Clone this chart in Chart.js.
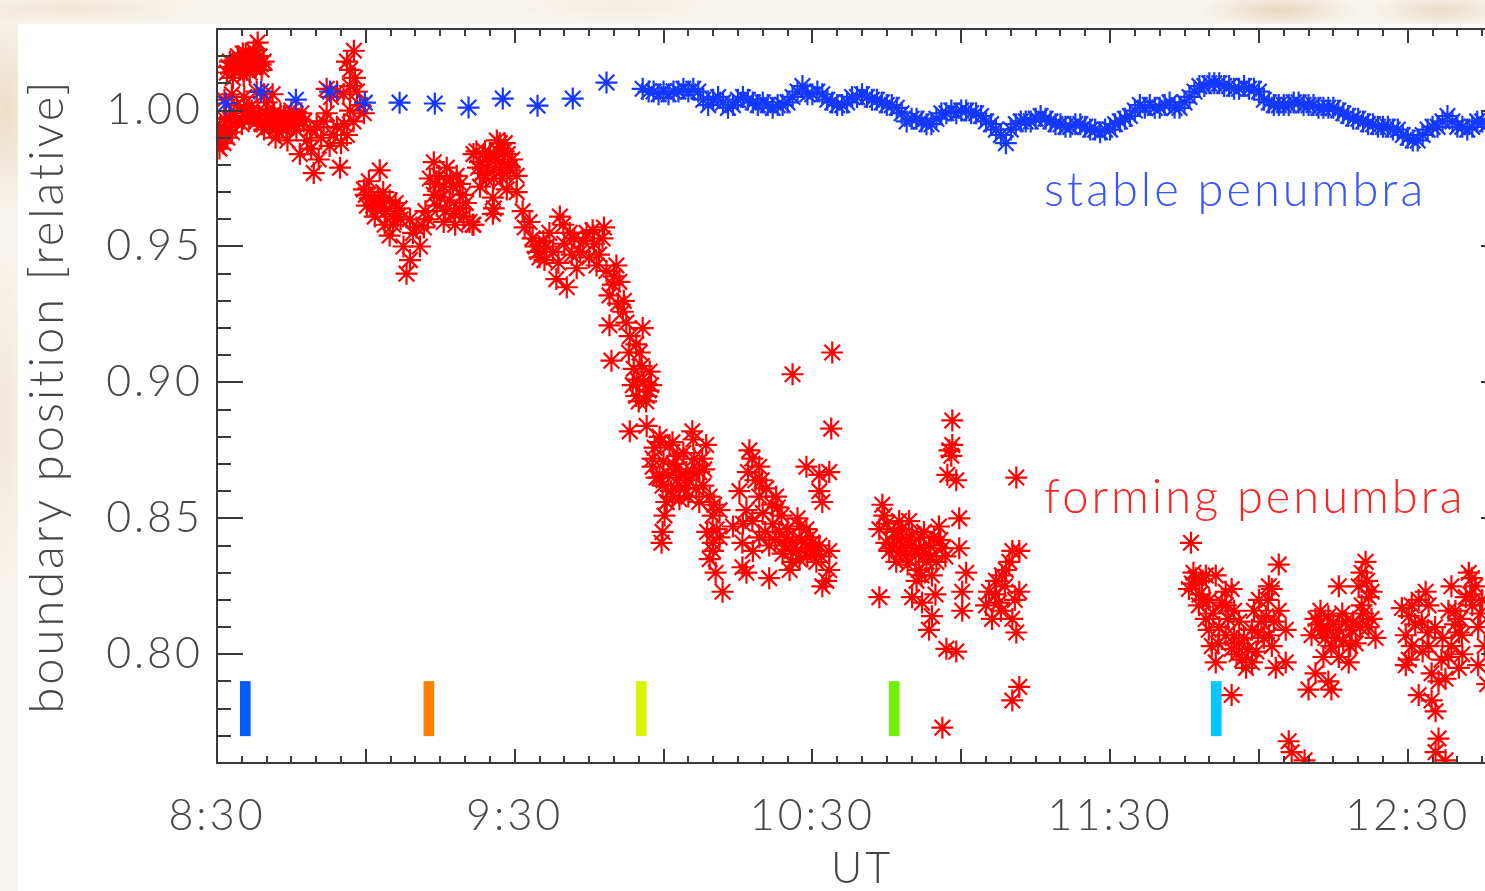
<!DOCTYPE html>
<html>
<head>
<meta charset="utf-8">
<script src="https://cdn.jsdelivr.net/npm/chart.js@4.4.1/dist/chart.umd.min.js"></script>
<style>
  body {
    margin: 0;
    width: 1485px;
    height: 891px;
    overflow: hidden;
    position: relative;
    background:
      radial-gradient(ellipse 40px 110px at 6px 110px, rgba(226, 204, 168, .55), transparent),
      radial-gradient(ellipse 30px 200px at 4px 420px, rgba(232, 216, 190, .45), transparent),
      radial-gradient(ellipse 140px 18px at 70px 8px, rgba(236, 222, 196, .6), transparent),
      radial-gradient(ellipse 120px 16px at 620px 6px, rgba(238, 228, 212, .5), transparent),
      radial-gradient(ellipse 80px 18px at 1280px 10px, rgba(224, 204, 172, .7), transparent),
      radial-gradient(ellipse 70px 18px at 1440px 10px, rgba(226, 208, 178, .65), transparent),
      #f8f5ef;
  }
  #panel {
    position: absolute;
    left: 18px;
    top: 24px;
    width: 1512px;
    height: 867px;
    background: #fff;
  }
</style>
</head>
<body>
<div id="panel"><canvas id="boundaryChart"></canvas></div>
<script>
document.addEventListener('DOMContentLoaded', function() {

    // time axis: minutes after 8:30 UT
    const START_MIN = 8 * 60 + 30;
    const X_MAX = 260;
    const Y_MIN = 0.76;
    const Y_MAX = 1.03;
    const xTickMinutes = [0, 60, 120, 180, 240];
    const yTickValues = [0.80, 0.85, 0.90, 0.95, 1.00];

    // frame markers along the bottom
    const frameTimes = [5.7, 42.7, 85.5, 136.5, 201.4];
    const frameColors = ['#005eff', '#ff8000', '#d8f500', '#70f000', '#00c8ff'];
    const frameSpan = [0.770, 0.790];

    // stable penumbra boundary [minutes, relative position]
    const stablePts = [
        [1.8, 1.0026], [8.9, 1.0070], [15.9, 1.0040], [22.8, 1.0070], [29.8, 1.0029], [36.8, 1.0029],
        [43.9, 1.0026], [50.7, 1.0011], [57.6, 1.0044], [64.6, 1.0018], [71.7, 1.0044], [78.5, 1.0103],
        [85.8, 1.008], [87, 1.007], [88, 1.007], [89, 1.006], [90, 1.007], [91, 1.006], [92, 1.007],
        [93, 1.007], [94, 1.008], [95, 1.007], [96, 1.008], [97, 1.007], [98, 1.004], [99, 1.002],
        [100, 1.004], [101, 1.005], [102, 1.003], [103, 1.001], [104, 1.002], [105, 1.004], [106, 1.005],
        [107, 1.004], [108, 1.003], [109, 1.002], [110, 1.003], [111, 1.002], [112, 1.001], [113, 1.002],
        [114, 1.002], [115, 1.003], [116, 1.005], [117, 1.007], [118, 1.009], [119, 1.006], [120, 1.006],
        [121, 1.007], [122, 1.006], [123, 1.004], [124, 1.003], [125, 1.002], [126, 1.002], [127, 1.003],
        [128, 1.005], [129, 1.005], [130, 1.006], [131, 1.005], [132, 1.004], [133, 1.004], [134, 1.003],
        [135, 1.002], [136, 1.002], [137, 1.001], [138, 0.999], [139, 0.996], [140, 0.997], [141, 0.997],
        [142, 0.996], [143, 0.995], [144, 0.995], [145, 0.997], [146, 0.999], [147, 0.999], [148, 1.000],
        [149, 0.999], [150, 1.000], [151, 1.000], [152, 0.999], [153, 0.999], [154, 0.998], [155, 0.996],
        [156, 0.995], [157, 0.993], [158, 0.991], [159, 0.988], [160, 0.993], [161, 0.995], [162, 0.996],
        [163, 0.996], [164, 0.996], [165, 0.997], [166, 0.998], [167, 0.997], [168, 0.996], [169, 0.995],
        [170, 0.995], [171, 0.994], [172, 0.994], [173, 0.995], [174, 0.995], [175, 0.994], [176, 0.993],
        [177, 0.993], [178, 0.992], [179, 0.993], [180, 0.993], [181, 0.995], [182, 0.996], [183, 0.997],
        [184, 0.998], [185, 1.000], [186, 1.002], [187, 1.001], [188, 1.002], [189, 1.001], [190, 1.001],
        [191, 1.002], [192, 1.003], [193, 1.001], [194, 1.001], [195, 1.003], [196, 1.005], [197, 1.007],
        [198, 1.009], [199, 1.009], [200, 1.010], [201, 1.010], [202, 1.010], [203, 1.009], [204, 1.009],
        [205, 1.008], [206, 1.008], [207, 1.009], [208, 1.008], [209, 1.008], [210, 1.007], [211, 1.004],
        [212, 1.003], [213, 1.002], [214, 1.002], [215, 1.002], [216, 1.002], [217, 1.003], [218, 1.003],
        [219, 1.002], [220, 1.002], [221, 1.002], [222, 1.001], [223, 1.001], [224, 1.001], [225, 1.001],
        [226, 1.000], [227, 0.999], [228, 0.998], [229, 0.997], [230, 0.997], [231, 0.996], [232, 0.995],
        [233, 0.995], [234, 0.994], [235, 0.994], [236, 0.994], [237, 0.993], [238, 0.993], [239, 0.991],
        [240, 0.990], [241, 0.989], [242, 0.989], [243, 0.991], [244, 0.993], [245, 0.994], [246, 0.994],
        [247, 0.996], [248, 0.998], [249, 0.996], [250, 0.994], [251, 0.994], [252, 0.993], [253, 0.994],
        [254, 0.996], [255, 0.996], [256, 0.995]
    ];

    // forming penumbra boundary [minutes, relative position]
    const formingPts = [
        // 8:30 - 9:00
        [0.2, 0.989], [0.5, 0.986], [0.9, 0.991], [1.3, 0.988], [1.7, 0.993], [2.1, 0.990], [2.5, 0.994],
        [3.0, 0.992], [0.6, 0.994], [1.5, 0.997],
        [2.0, 1.014], [2.6, 1.018], [3.2, 1.012], [3.6, 1.016], [4.2, 1.020], [4.6, 1.015], [5.0, 1.018],
        [5.4, 1.013], [5.8, 1.021], [6.2, 1.017], [6.6, 1.014], [7.0, 1.019], [7.4, 1.022], [7.8, 1.016],
        [8.2, 1.025], [8.6, 1.020], [9.0, 1.015], [9.4, 1.018], [4.0, 1.017], [6.0, 1.015], [7.2, 1.016],
        [3.0, 1.016], [8.0, 1.019], [2.3, 1.016], [4.4, 1.018], [5.2, 1.021], [6.8, 1.018], [7.6, 1.020],
        [8.8, 1.017],
        [1.5, 1.004], [3.0, 1.006], [4.0, 1.002], [5.5, 1.005], [6.5, 1.001], [8.0, 1.007], [9.5, 1.006],
        [10.0, 1.003], [11.2, 1.006],
        [2.5, 0.997], [4.0, 0.996], [5.5, 0.998], [7.0, 1.000], [8.5, 0.998], [9.0, 0.995], [9.5, 0.993],
        [10.0, 0.997], [10.5, 0.994], [11.0, 0.996], [11.5, 0.999], [12.0, 0.995], [12.5, 0.992], [13.0, 0.996],
        [13.5, 0.998], [14.0, 0.994], [14.5, 0.997], [15.0, 1.000], [15.5, 0.995], [16.0, 0.993], [16.5, 0.997],
        [17.0, 0.999], [11.8, 0.990], [14.2, 0.989], [10.8, 0.998], [12.8, 0.999], [13.8, 0.996], [15.8, 0.998],
        [6.5, 0.997], [8.0, 0.996], [3.5, 0.999], [5.0, 0.995], [6.0, 1.000], [7.5, 0.998], [9.8, 0.999],
        [12.2, 0.997], [13.2, 0.994], [16.2, 0.996],
        [16.7, 0.984], [19.5, 0.977], [18.1, 0.989], [20.1, 0.994], [22.1, 0.999], [24.2, 0.994], [22.7, 0.987],
        [24.8, 0.979], [25.6, 0.995], [26.8, 1.000], [26.2, 0.991], [18.8, 0.993], [21.0, 0.990], [23.5, 0.991],
        [19.0, 0.986], [21.5, 0.996], [25.0, 0.988], [27.5, 0.996], [20.5, 0.982], [17.5, 0.996],
        [22.1, 1.008], [24.2, 1.007], [26.8, 1.009], [28.2, 1.007], [28.8, 1.002], [29.6, 0.999], [26.2, 1.018],
        [27.6, 1.022], [26.8, 1.015], [23.0, 1.005], [25.5, 1.006], [27.8, 1.012],
        // 9:00 - 9:30
        [29.6, 0.971], [32.8, 0.978], [30.2, 0.965], [32.2, 0.964], [34.8, 0.967], [36.8, 0.964], [38.9, 0.960],
        [40.2, 0.957], [41.7, 0.957], [40.9, 0.950], [38.9, 0.945], [38.2, 0.940], [34.8, 0.954], [37.6, 0.950],
        [31.0, 0.968], [33.5, 0.970], [35.8, 0.962], [30.6, 0.974], [33.0, 0.966], [36.0, 0.966], [37.0, 0.960],
        [39.5, 0.955], [42.5, 0.960], [31.8, 0.961], [35.5, 0.958], [30.0, 0.969], [31.5, 0.965], [32.5, 0.968],
        [34.0, 0.963], [36.4, 0.961], [33.8, 0.958],
        [43.7, 0.981], [42.9, 0.975], [45.7, 0.972], [46.9, 0.967], [48.9, 0.964], [45.7, 0.959], [50.9, 0.959],
        [48.3, 0.976], [46.3, 0.979], [43.7, 0.969], [44.3, 0.965], [49.7, 0.961], [51.7, 0.958], [44.8, 0.976],
        [47.5, 0.972], [49.5, 0.969], [46.0, 0.963], [48.0, 0.958], [42.0, 0.963], [51.5, 0.958],
        [44.0, 0.973], [45.0, 0.968], [47.0, 0.975], [49.0, 0.973], [50.2, 0.966], [47.8, 0.962],
        [53.0, 0.981], [54.4, 0.979], [56.4, 0.989], [57.8, 0.985], [55.8, 0.975], [51.7, 0.984], [55.0, 0.984],
        [59.0, 0.979], [56.9, 0.981], [60.4, 0.976], [55.8, 0.964], [58.4, 0.971], [57.0, 0.988], [52.3, 0.985],
        [53.5, 0.977], [54.0, 0.985], [56.0, 0.983], [58.0, 0.988], [59.5, 0.982], [55.6, 0.968], [57.2, 0.978],
        [53.0, 0.972], [55.6, 0.962], [52.6, 0.979], [54.8, 0.981], [56.6, 0.985], [58.6, 0.984], [57.5, 0.975],
        [54.2, 0.975],
        // 9:30 - 10:05
        [59.0, 0.978], [60.4, 0.970], [61.6, 0.963], [63.0, 0.959], [63.6, 0.953], [65.0, 0.946], [66.4, 0.950],
        [67.7, 0.948], [69.1, 0.961], [71.1, 0.955], [68.4, 0.938], [70.5, 0.935], [72.5, 0.942], [74.5, 0.955],
        [75.7, 0.956], [77.7, 0.953], [76.5, 0.943], [78.5, 0.941], [80.5, 0.943], [81.1, 0.937], [79.1, 0.932],
        [81.8, 0.926], [79.1, 0.921], [83.2, 0.917], [85.8, 0.920], [85.2, 0.911], [87.2, 0.904], [83.8, 0.899],
        [86.6, 0.895], [79.5, 0.908], [83.2, 0.882], [86.6, 0.884], [89.2, 0.880], [91.8, 0.878], [95.8, 0.882],
        [62.0, 0.957], [64.2, 0.950], [66.0, 0.945], [67.0, 0.955], [69.8, 0.958], [70.0, 0.951], [72.0, 0.953],
        [73.2, 0.948], [76.0, 0.951], [77.0, 0.947], [78.0, 0.957], [80.0, 0.939], [82.5, 0.922], [84.5, 0.914],
        [84.0, 0.905], [86.0, 0.900], [85.0, 0.893], [87.0, 0.897], [82.0, 0.930], [84.7, 0.901], [87.5, 0.899],
        [84.5, 0.895], [86.5, 0.893], [64.6, 0.948], [65.8, 0.952], [68.8, 0.944], [71.5, 0.947], [73.8, 0.952],
        [75.0, 0.946], [79.8, 0.936], [80.8, 0.929], [83.0, 0.911], [85.6, 0.906],
        // 10:00 - 10:35
        [87.8, 0.869], [89.2, 0.865], [90.6, 0.856], [93.2, 0.862], [95.8, 0.867], [97.2, 0.856], [89.8, 0.845],
        [89.6, 0.841], [91.2, 0.877], [98.6, 0.877], [87.8, 0.872], [88.6, 0.865], [89.8, 0.862], [93.2, 0.865],
        [94.6, 0.867], [97.2, 0.867], [96.6, 0.861], [93.2, 0.857], [90.6, 0.856], [99.3, 0.858], [99.9, 0.851],
        [101.3, 0.853], [100.7, 0.846], [99.9, 0.841], [99.3, 0.835], [101.3, 0.843], [101.9, 0.823], [92.0, 0.870],
        [94.0, 0.874], [95.0, 0.858], [96.0, 0.879], [98.0, 0.862], [91.5, 0.860], [92.5, 0.868], [97.8, 0.872],
        [100.0, 0.838], [100.5, 0.830], [98.8, 0.845], [88.2, 0.876], [90.0, 0.871], [91.0, 0.866], [92.8, 0.873],
        [94.2, 0.861], [95.2, 0.864], [96.2, 0.872], [98.2, 0.868], [90.2, 0.851], [91.8, 0.858], [100.2, 0.855],
        [89.4, 0.878],
        [107.3, 0.875], [107.9, 0.872], [109.3, 0.869], [105.3, 0.860], [106.7, 0.853], [109.3, 0.858],
        [110.7, 0.861], [112.7, 0.858], [111.9, 0.855], [107.9, 0.849], [109.3, 0.843], [105.9, 0.841],
        [111.3, 0.840], [113.3, 0.845], [114.8, 0.843], [116.0, 0.841], [117.4, 0.847], [118.8, 0.846],
        [120.0, 0.841], [121.4, 0.840], [118.8, 0.839], [116.0, 0.834], [117.4, 0.835], [105.9, 0.832],
        [106.7, 0.830], [111.3, 0.828], [115.4, 0.831], [120.8, 0.834], [123.4, 0.831], [122.0, 0.825],
        [122.8, 0.827], [123.4, 0.838], [118.8, 0.869], [121.4, 0.866], [123.4, 0.867], [121.4, 0.860],
        [122.0, 0.856], [116.0, 0.903], [124.0, 0.911], [123.8, 0.883], [108.5, 0.864], [110.0, 0.852],
        [112.0, 0.848], [113.8, 0.851], [115.0, 0.846], [116.8, 0.838], [119.5, 0.843], [114.0, 0.837],
        [117.0, 0.850], [119.0, 0.836], [120.5, 0.838], [108.0, 0.838], [104.0, 0.847], [106.0, 0.848],
        [110.5, 0.845], [112.5, 0.842], [114.4, 0.840], [115.8, 0.838], [117.8, 0.842], [119.8, 0.839],
        [121.8, 0.836], [113.0, 0.854], [107.0, 0.867], [109.8, 0.864],
        // 10:40 - 11:05
        [134.1, 0.855], [133.5, 0.846], [134.9, 0.841], [136.1, 0.839], [138.1, 0.846], [139.5, 0.849],
        [140.1, 0.844], [138.9, 0.836], [136.9, 0.834], [141.5, 0.839], [143.5, 0.840], [145.5, 0.847],
        [146.2, 0.839], [145.0, 0.834], [143.0, 0.834], [141.5, 0.831], [144.1, 0.829], [140.1, 0.821],
        [142.1, 0.819], [144.1, 0.814], [143.5, 0.809], [133.5, 0.821], [147.0, 0.802], [149.0, 0.801],
        [148.2, 0.886], [148.2, 0.877], [147.6, 0.875], [147.2, 0.866], [149.0, 0.864], [149.6, 0.850],
        [149.6, 0.839], [151.0, 0.830], [150.2, 0.823], [150.2, 0.816], [146.2, 0.773], [135.5, 0.838],
        [137.0, 0.843], [138.0, 0.840], [139.0, 0.842], [140.8, 0.837], [142.5, 0.845], [144.5, 0.843],
        [146.8, 0.836], [135.0, 0.848], [137.5, 0.849], [141.0, 0.827], [144.8, 0.822], [142.8, 0.837],
        [148.0, 0.873], [134.5, 0.851], [136.5, 0.845], [137.8, 0.838], [139.8, 0.840], [141.8, 0.843],
        [143.8, 0.836], [145.8, 0.842], [139.2, 0.833], [142.0, 0.829],
        [155.6, 0.823], [157.0, 0.827], [158.2, 0.829], [159.7, 0.834], [160.3, 0.838], [161.7, 0.838],
        [157.6, 0.819], [156.2, 0.813], [161.7, 0.823], [160.3, 0.813], [161.1, 0.808], [161.1, 0.865],
        [161.7, 0.788], [160.3, 0.783], [158.8, 0.825], [159.0, 0.831], [156.8, 0.822], [158.0, 0.816],
        [160.8, 0.820], [155.0, 0.818],
        // 11:45 - 12:50
        [196.3, 0.841], [197.3, 0.828], [195.9, 0.824], [199.3, 0.829], [201.3, 0.829], [197.9, 0.818],
        [199.3, 0.813], [199.9, 0.809], [200.5, 0.803], [201.3, 0.797], [203.3, 0.823], [204.5, 0.824],
        [203.3, 0.818], [203.3, 0.807], [204.5, 0.802], [206.0, 0.804], [206.6, 0.798], [207.4, 0.795],
        [208.6, 0.797], [206.0, 0.812], [208.6, 0.809], [210.0, 0.820], [211.4, 0.814], [212.0, 0.825],
        [212.6, 0.824], [214.0, 0.833], [214.0, 0.816], [215.4, 0.809], [212.0, 0.807], [212.6, 0.803],
        [213.4, 0.795], [215.4, 0.797], [204.5, 0.785], [216.0, 0.768], [216.6, 0.764], [219.2, 0.761],
        [196.5, 0.826], [198.0, 0.822], [200.8, 0.815], [202.0, 0.810], [205.5, 0.800], [207.0, 0.806],
        [209.5, 0.801], [210.5, 0.812], [196.8, 0.830], [198.5, 0.827], [202.5, 0.819], [205.0, 0.816],
        [209.0, 0.816], [211.0, 0.806], [198.8, 0.820], [200.0, 0.820], [201.8, 0.804], [203.8, 0.813],
        [205.0, 0.807], [207.8, 0.802], [209.8, 0.808], [211.8, 0.820], [213.0, 0.812],
        [221.4, 0.813], [222.7, 0.809], [224.0, 0.814], [226.1, 0.809], [227.5, 0.812], [228.7, 0.809],
        [220.6, 0.807], [223.4, 0.806], [224.6, 0.803], [226.1, 0.799], [228.1, 0.797], [229.5, 0.804],
        [221.4, 0.793], [220.0, 0.787], [224.0, 0.790], [224.6, 0.787], [226.1, 0.825], [230.7, 0.818],
        [230.1, 0.825], [231.5, 0.834], [230.7, 0.830], [232.1, 0.821], [232.7, 0.823], [232.7, 0.813],
        [233.5, 0.806], [232.1, 0.810], [222.0, 0.811], [225.0, 0.811], [227.0, 0.805], [229.0, 0.812],
        [231.0, 0.815], [225.5, 0.806], [223.0, 0.799], [222.4, 0.816], [223.8, 0.809], [226.8, 0.815],
        [228.4, 0.803], [230.4, 0.810], [231.8, 0.827],
        [238.8, 0.817], [240.2, 0.814], [242.2, 0.820], [243.6, 0.823], [244.2, 0.818], [239.6, 0.807],
        [240.8, 0.803], [240.2, 0.798], [239.6, 0.796], [243.0, 0.801], [244.2, 0.803], [244.8, 0.793],
        [246.2, 0.790], [247.6, 0.791], [242.2, 0.785], [244.8, 0.783], [245.6, 0.779], [248.8, 0.825],
        [248.2, 0.816], [248.8, 0.803], [250.3, 0.795], [250.3, 0.808], [250.9, 0.807], [252.3, 0.830],
        [252.9, 0.828], [251.7, 0.821], [253.6, 0.825], [249.6, 0.816], [254.2, 0.810], [254.2, 0.796],
        [246.2, 0.769], [245.6, 0.764], [247.6, 0.761], [241.5, 0.811], [245.5, 0.810], [247.0, 0.806],
        [249.5, 0.811], [251.0, 0.800], [253.0, 0.818], [255.0, 0.820], [255.5, 0.803], [256.0, 0.789],
        [240.8, 0.818], [242.8, 0.812], [244.0, 0.808], [246.8, 0.798], [248.2, 0.799], [250.6, 0.813],
        [252.6, 0.822], [254.6, 0.815]
    ];

    // curve labels, anchored in data coordinates (left edge, baseline)
    const curveLabels = [
        { text: 'stable penumbra', t: 166.7, v: 0.965, color: '#3655ff' },
        { text: 'forming penumbra', t: 166.7, v: 0.852, color: '#ff2424' }
    ];

    const TEXT = '#474747';
    const AXIS = '#3a3a3a';
    const FONT = 'Lato, "Open Sans", sans-serif';
    const SPACING = '3px';

    function fmtTime(m) {
        const total = START_MIN + m;
        return Math.floor(total / 60) + ':' + String(total % 60).padStart(2, '0');
    }

    // IDL-style box with inward ticks on all four sides
    const boxTicks = {
        id: 'boxTicks',
        beforeUpdate(chart) { chart.ctx.letterSpacing = SPACING; },
        beforeDraw(chart) { chart.ctx.letterSpacing = SPACING; },
        afterDatasetsDraw(chart) {
            const { ctx, chartArea: a, scales: { x, y } } = chart;
            ctx.save();
            ctx.strokeStyle = AXIS;
            ctx.lineWidth = 2;
            ctx.beginPath();
            for (let m = 0; m <= X_MAX; m += 5) {
                const px = Math.round(x.getPixelForValue(m));
                const len = m % 30 === 0 ? 14 : 7;
                ctx.moveTo(px, a.bottom); ctx.lineTo(px, a.bottom - len);
                ctx.moveTo(px, a.top); ctx.lineTo(px, a.top + len);
            }
            for (let k = 76; k <= 103; k++) {
                const py = Math.round(y.getPixelForValue(k / 100));
                const len = k % 5 === 0 ? 26 : 14;
                ctx.moveTo(a.left, py); ctx.lineTo(a.left + len, py);
                ctx.moveTo(a.right, py); ctx.lineTo(a.right - len, py);
            }
            ctx.stroke();
            ctx.strokeRect(a.left, a.top, a.right - a.left, a.bottom - a.top);

            ctx.font = '300 47px ' + FONT;
            ctx.textAlign = 'left';
            ctx.textBaseline = 'alphabetic';
            curveLabels.forEach(l => {
                ctx.fillStyle = l.color;
                ctx.fillText(l.text, x.getPixelForValue(l.t), y.getPixelForValue(l.v));
            });
            ctx.restore();
        }
    };

    new Chart(document.getElementById('boundaryChart'), {
        type: 'scatter',
        data: {
            datasets: [
                {
                    type: 'bar',
                    data: frameTimes.map(t => ({ x: t, y: frameSpan })),
                    backgroundColor: frameColors,
                    barThickness: 10,
                    order: 0
                },
                {
                    label: 'stable penumbra',
                    data: stablePts.map(p => ({ x: p[0], y: p[1] })),
                    borderColor: '#1438ff',
                    order: 1,
                    clip: 0
                },
                {
                    label: 'forming penumbra',
                    data: formingPts.map(p => ({ x: p[0], y: p[1] })),
                    borderColor: '#ff0000',
                    order: 2,
                    clip: 0
                }
            ]
        },
        options: {
            responsive: true,
            maintainAspectRatio: false,
            animation: false,
            events: [],
            layout: { autoPadding: false, padding: { top: 5, right: 23, left: 0, bottom: 0 } },
            elements: {
                point: { pointStyle: 'star', radius: 11, borderWidth: 2.2, hoverRadius: 11 }
            },
            plugins: {
                legend: { display: false },
                tooltip: { enabled: false }
            },
            scales: {
                x: {
                    type: 'linear',
                    min: 0,
                    max: X_MAX,
                    offset: false,
                    grid: { display: false, drawTicks: false, offset: false },
                    border: { display: false },
                    afterBuildTicks: s => { s.ticks = xTickMinutes.map(v => ({ value: v })); },
                    afterFit: s => { s.height = 128; s.paddingLeft = 0; s.paddingRight = 0; },
                    ticks: {
                        padding: 27,
                        maxRotation: 0,
                        color: TEXT,
                        font: { family: FONT, size: 43, weight: 300 },
                        callback: v => fmtTime(v)
                    },
                    title: {
                        display: true,
                        text: 'UT',
                        color: TEXT,
                        padding: 0,
                        font: { family: FONT, size: 43, weight: 300, lineHeight: 1 }
                    }
                },
                y: {
                    min: Y_MIN,
                    max: Y_MAX,
                    offset: false,
                    grid: { display: false, drawTicks: false },
                    border: { display: false },
                    afterBuildTicks: s => { s.ticks = yTickValues.map(v => ({ value: v })); },
                    afterFit: s => { s.width = 199; s.paddingTop = 0; s.paddingBottom = 0; },
                    ticks: {
                        padding: 14,
                        color: TEXT,
                        font: { family: FONT, size: 43, weight: 300 },
                        callback: v => v.toFixed(2)
                    },
                    title: {
                        display: true,
                        text: 'boundary position [relative]',
                        color: TEXT,
                        padding: 6,
                        font: { family: FONT, size: 47, weight: 300, lineHeight: 1 }
                    }
                }
            }
        },
        plugins: [boxTicks]
    });

});
</script>
</body>
</html>
